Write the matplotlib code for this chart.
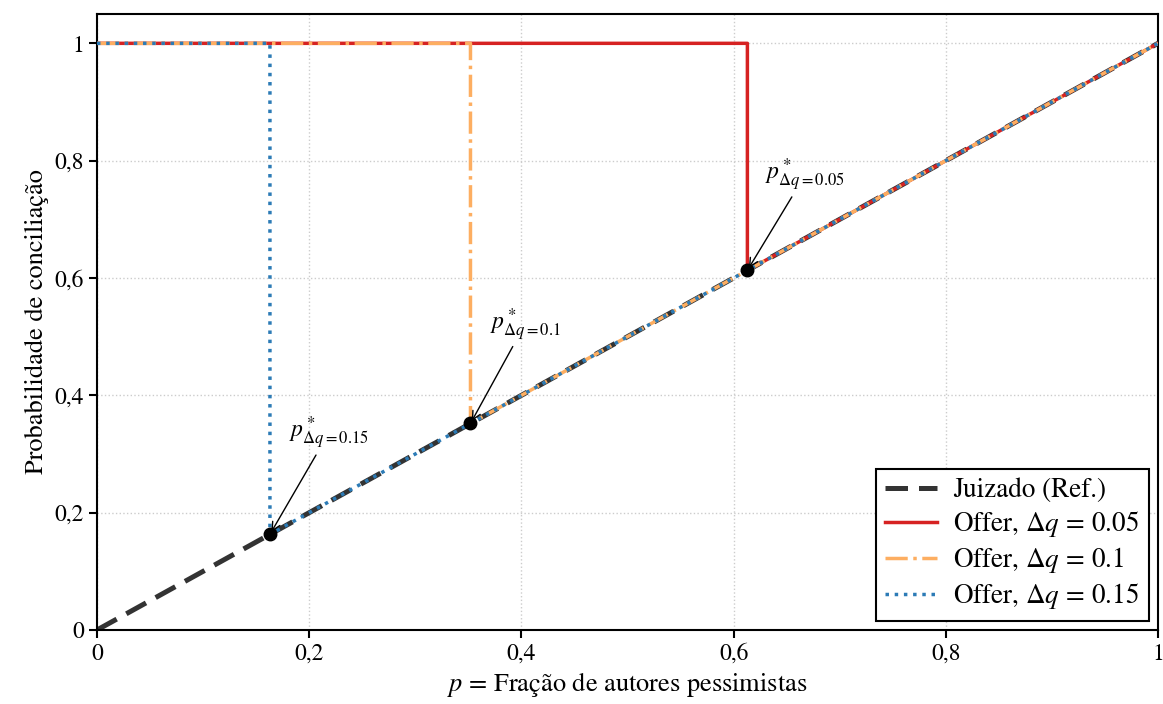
import matplotlib
matplotlib.use("Agg")
import matplotlib.pyplot as plt

plt.rcParams['font.family'] = ['STIXGeneral', 'DejaVu Serif']
plt.rcParams['mathtext.fontset'] = 'stix'

# Data
ref_p = [0.0, 1.0]
ref_y = [0.0, 1.0]
delta_q = ["0.05", "0.1", "0.15"]
p_star = [0.613, 0.352, 0.163]
colors = ["#d62222", "#fdae61", "#2c7bb6"]
styles = ["-", "-.", ":"]
label_pos = [(0.630, 0.745), (0.370, 0.490), (0.181, 0.305)]
xticks = [0, 0.2, 0.4, 0.6, 0.8, 1.0]
xticklabels = ["0", "0,2", "0,4", "0,6", "0,8", "1"]
yticks = [0, 0.2, 0.4, 0.6, 0.8, 1.0]
yticklabels = ["0", "0,2", "0,4", "0,6", "0,8", "1"]

fig = plt.figure(figsize=(11.63, 7.04), dpi=100)
ax = fig.add_axes([97/1163, (704-630)/704, (1158-97)/1163, (630-14)/704])

ax.plot(ref_p, ref_y, color="#333333", ls=(0, (4.5, 2.2)), lw=3.6, label="Juizado (Ref.)", zorder=2)
for dq, ps, c, st in zip(delta_q, p_star, colors, styles):
    xs = [0.0, ps, ps, 1.0]
    ys = [1.0, 1.0, ps, 1.0]
    ax.plot(xs, ys, color=c, ls=st, lw=2.5, label=r"Offer, $\Delta q\,=\,$" + dq, zorder=3)

for dq, ps, (tx, ty) in zip(delta_q, p_star, label_pos):
    ax.plot([ps], [ps], 'o', color='black', ms=9, zorder=5)
    ax.annotate(r"$p^*_{\Delta q\mathrm{=}" + dq + "}$", xy=(ps, ps), xytext=(tx, ty),
                fontsize=17, ha='left', va='bottom',
                arrowprops=dict(arrowstyle='->', color='black', lw=1.0, shrinkA=1, shrinkB=2,
                                mutation_scale=15),
                zorder=6)

ax.set_xlim(0, 1)
ax.set_ylim(0, 1.05)
ax.set_xticks(xticks)
ax.set_xticklabels(xticklabels)
ax.set_yticks(yticks)
ax.set_yticklabels(yticklabels)
ax.tick_params(labelsize=17, width=1.5, length=6, direction='out')
for s in ax.spines.values():
    s.set_linewidth(1.5)
ax.grid(True, ls=':', color='#cccccc', lw=1.0)
ax.set_axisbelow(True)
ax.set_xlabel(r"$p$ = Fração de autores pessimistas", fontsize=19)
ax.set_ylabel("Probabilidade de conciliação", fontsize=19)

leg = ax.legend(loc='lower right', fontsize=19.5, fancybox=False, edgecolor='black',
                framealpha=1, handlelength=1.9, handletextpad=0.6, borderpad=0.35,
                labelspacing=0.22, borderaxespad=0.35)
leg.get_frame().set_linewidth(1.5)

fig.savefig("out.png", dpi=100)
